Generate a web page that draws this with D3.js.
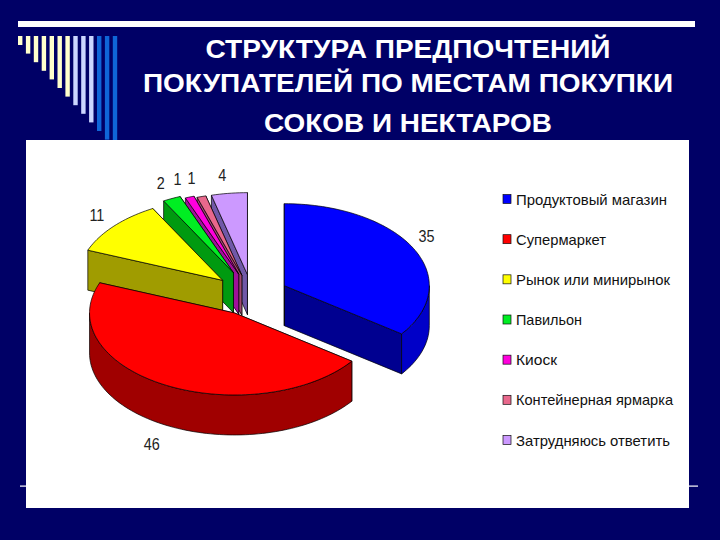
<!DOCTYPE html>
<html><head><meta charset="utf-8">
<style>html,body{margin:0;padding:0;background:#000066}svg{display:block}</style>
<script src="https://cdnjs.cloudflare.com/ajax/libs/d3/7.8.5/d3.min.js"></script>
</head><body><svg id="c" width="720" height="540"></svg>
<script>
const categories=["Продуктовый магазин","Супермаркет","Рынок или минирынок","Павильон","Киоск","Контейнерная ярмарка","Затрудняюсь ответить"];
const values=[35,46,11,2,1,1,4];
const topColors=["#0000ff","#ff0000","#ffff00","#00ee22","#ff00dd","#e8688c","#cc99ff"];
const radialColors=["#000090","#a00000","#a09c00","#009a10","#a0109a","#a04870","#7058a8"];
const arcColors=["#0000c8","#a00000","#a09c00","#009a10","#a0109a","#a04870","#7058a8"];
const titleLines=["СТРУКТУРА ПРЕДПОЧТЕНИЙ","ПОКУПАТЕЛЕЙ ПО МЕСТАМ ПОКУПКИ","СОКОВ И НЕКТАРОВ"];

const svg=d3.select("#c");
svg.append("rect").attr("width",720).attr("height",540).attr("fill","#000066");
svg.append("rect").attr("x",18).attr("y",21).attr("width",677).attr("height",6).attr("fill","#fff");
const combColors=d3.range(13).map(i=>i<7?"#ffffcc":i<10?"#ccd6ff":"#0f66d8");
svg.selectAll("rect.comb").data(combColors).join("rect").attr("class","comb")
  .attr("x",(d,i)=>18+i*7.9).attr("y",36).attr("width",4.4)
  .attr("height",(d,i)=>9+i*8.6).attr("fill",d=>d);
svg.append("rect").attr("x",20).attr("y",485.5).attr("width",678).attr("height",1.2).attr("fill","#fff");
const titleWidths=[405,530,288];
svg.selectAll("text.title").data(titleLines).join("text").attr("class","title")
  .attr("x",408).attr("y",(d,i)=>[58,92,132][i])
  .attr("text-anchor","middle").attr("fill","#fff")
  .attr("font-family","Liberation Sans").attr("font-weight","bold").attr("font-size",26)
  .attr("textLength",(d,i)=>titleWidths[i]).attr("lengthAdjust","spacingAndGlyphs").text(d=>d);
svg.append("rect").attr("x",26).attr("y",140).attr("width",663).attr("height",368).attr("fill","#fff");

const cx=252,cy=295,rx=145,ry=82,depth=40;
const explode=[.25,.25,.27,.3,.27,.25,.25];
const x=d3.scaleLinear().domain([-1,1]).range([-rx,rx]);
const y=d3.scaleLinear().domain([-1,1]).range([-ry,ry]);
const slices=d3.pie().sort(null).value(d=>d)(values).map((s,i)=>{
  const mid=(s.startAngle+s.endAngle)/2;
  return {...s,i,mid,ax:cx+x(explode[i]*Math.sin(mid)),ay:cy+y(-explode[i]*Math.cos(mid))};
});
const pt=(s,a,dz=0)=>[s.ax+x(Math.sin(a)),s.ay+y(-Math.cos(a))+dz];
const arcPts=(s,a0,a1,dz=0)=>{const n=Math.max(2,Math.ceil((a1-a0)/0.03));
  return d3.range(n+1).map(k=>pt(s,a0+(a1-a0)*k/n,dz));};
const line=d3.line();
const g=svg.append("g").attr("stroke","#000").attr("stroke-width",0.7).attr("stroke-linejoin","round");
const drawOrder=[6,5,4,3,2,0,1];
drawOrder.forEach(i=>{
  const s=slices[i],a0=s.startAngle,a1=s.endAngle,apex=[s.ax,s.ay],apexB=[s.ax,s.ay+depth];
  [a1,a0].forEach(a=>{
    g.append("path").attr("d",line([apex,pt(s,a),pt(s,a,depth),apexB])+"Z").attr("fill",radialColors[i]);
  });
  const f0=Math.max(a0,Math.PI/2),f1=Math.min(a1,Math.PI*1.5);
  if(f1>f0){
    g.append("path").attr("d",line(arcPts(s,f0,f1).concat(arcPts(s,f0,f1,depth).reverse()))+"Z").attr("fill",arcColors[i]);
  }
  g.append("path").attr("d",line([apex].concat(arcPts(s,a0,a1)))+"Z").attr("fill",topColors[i]);
});
const labelNudge=[[13,-12],[-13,59],[-17,-11],[-11,-16],[-12,-18],[-10,-19],[-7,-18]];
svg.selectAll("text.v").data(slices).join("text").attr("class","v")
  .attr("transform",s=>{const p=pt(s,s.mid),n=labelNudge[s.i];return `translate(${p[0]+n[0]},${p[1]+n[1]+6}) scale(.9,1)`;})
  .attr("text-anchor","middle").attr("font-family","Liberation Sans").attr("font-size",16).attr("fill","#222")
  .text(s=>s.data);
const ly=d3.scalePoint().domain(categories).range([199,440]);
const leg=svg.selectAll("g.l").data(categories).join("g").attr("class","l").attr("transform",d=>`translate(503,${ly(d)})`);
leg.append("rect").attr("x",0).attr("y",-4.5).attr("width",8).attr("height",9)
  .attr("fill",(d,i)=>topColors[i]).attr("stroke","#111").attr("stroke-width",.7);
const legendWidths=[151,90,154,66,41,157,154];
leg.append("text").attr("x",13).attr("y",5.5).attr("font-family","Liberation Sans").attr("font-size",15).attr("fill","#111")
  .attr("textLength",(d,i)=>legendWidths[i]).attr("lengthAdjust","spacingAndGlyphs").text(d=>d);
</script></body></html>
